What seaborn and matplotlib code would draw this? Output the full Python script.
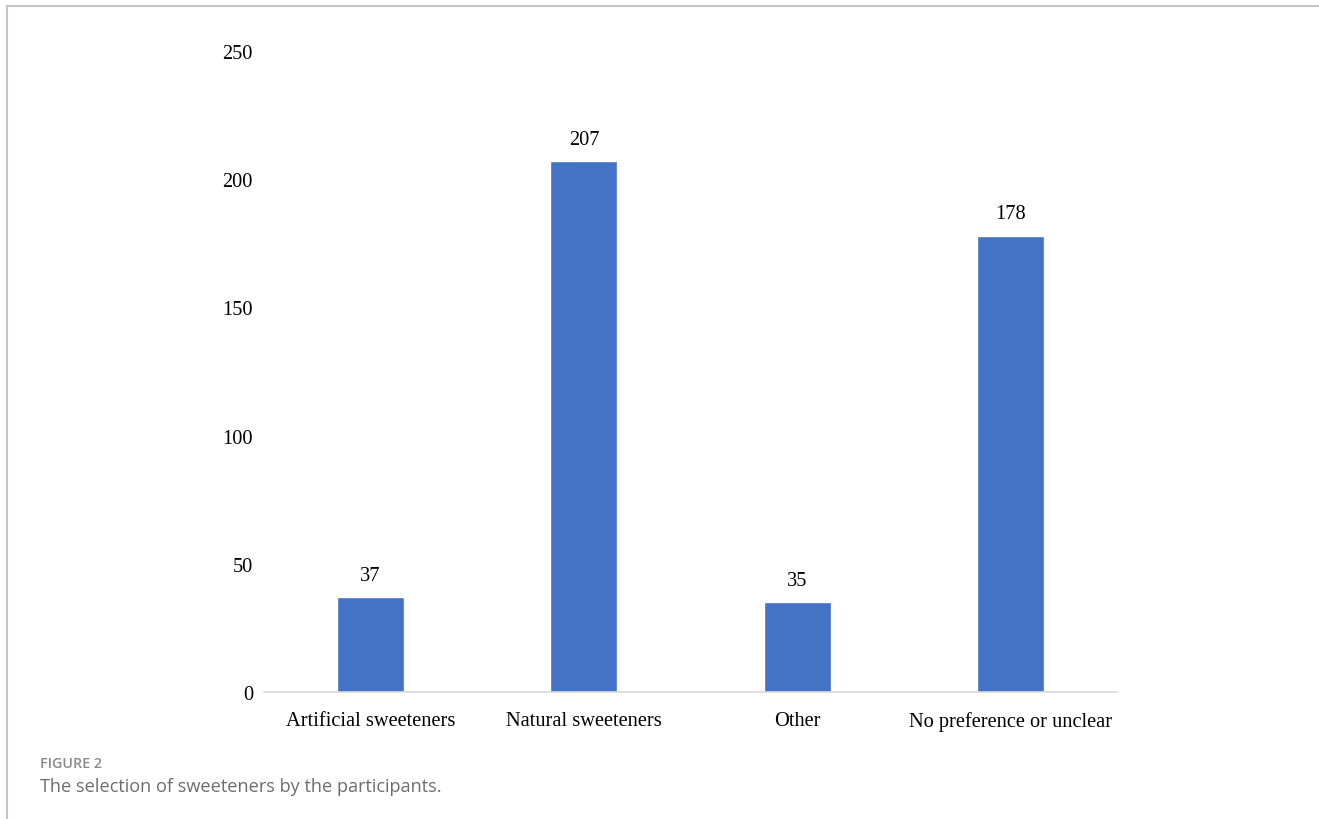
import matplotlib
matplotlib.use("Agg")
import matplotlib.pyplot as plt
from matplotlib.lines import Line2D
import seaborn as sns
import pandas as pd

categories = ["Artificial sweeteners", "Natural sweeteners", "Other", "No preference or unclear"]
counts = [37, 207, 35, 178]
yticks = [0, 50, 100, 150, 200, 250]

sns.set_theme(style="white")
plt.rcParams['font.family'] = ['Liberation Serif', 'DejaVu Serif']

df = pd.DataFrame({"category": categories, "count": counts})

fig = plt.figure(figsize=(13.19, 8.2), dpi=100)
ax = fig.add_axes([264/1319, 1 - 693/820, (1117-264)/1319, (693-52)/820])
sns.barplot(data=df, x="category", y="count", color="#4472C4", width=0.315,
            saturation=1, ax=ax, order=categories)

ax.set_ylim(0, 250)
ax.set_yticks(yticks)
ax.set_xlabel("")
ax.set_ylabel("")
for s in ["top", "right", "left"]:
    ax.spines[s].set_visible(False)
ax.spines["bottom"].set_color("#d9d9d9")
ax.spines["bottom"].set_linewidth(1.2)
ax.tick_params(axis="both", length=0, labelsize=14.7, colors="#000000")
ax.tick_params(axis="y", pad=8)
ax.tick_params(axis="x", pad=14)

for c in ax.containers:
    ax.bar_label(c, labels=[str(v) for v in counts], padding=9, fontsize=14.7,
                 color="#000000")

fig.text(40/1319, 1 - 764/820, "FIGURE 2", fontsize=10.3, color="#8a8a8a",
         family=["Open Sans", "DejaVu Sans"], va="center", ha="left", fontweight="semibold")
fig.text(40/1319, 1 - 787/820, "The selection of sweeteners by the participants.",
         fontsize=13.1, color="#6d6d6d", family=["Open Sans", "DejaVu Sans"],
         va="center", ha="left")

fig.add_artist(Line2D([7/1319, 1], [1 - 7/820, 1 - 7/820], color="#c4c4c4", lw=1.5))
fig.add_artist(Line2D([7/1319, 7/1319], [0, 1 - 7/820], color="#c4c4c4", lw=1.5))

fig.savefig("out.png", dpi=100, facecolor="white")
